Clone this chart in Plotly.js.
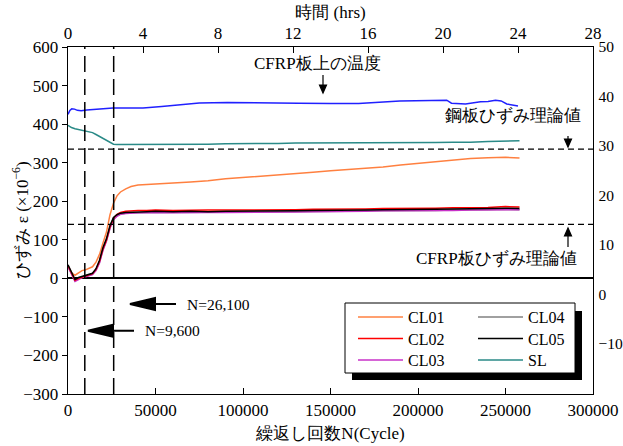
<!DOCTYPE html>
<html><head><meta charset="utf-8">
<script src="https://cdn.plot.ly/plotly-3.0.1.min.js"></script>
<style>
body{margin:0;background:#fff}
#chart{width:623px;height:446px}
</style>
</head><body><div id="chart"></div>
<script>
// ---- data ----
const cycles = [0, 2000, 4000, 6000, 8000, 10000, 12000, 14000, 16000, 18000, 20000, 22000, 24000, 26000, 28000, 30000, 33000, 36000, 40000, 45000, 50000, 60000, 70000, 80000, 90000, 100000, 110000, 120000, 130000, 140000, 150000, 160000, 170000, 180000, 190000, 200000, 210000, 220000, 230000, 240000, 250000, 258000];
const cl01 = [30, 15, 8, 14, 20, 22, 25, 30, 42, 62, 92, 120, 165, 195, 214, 224, 232, 238, 242, 243, 244, 247, 250, 253, 258, 261, 265, 268, 271, 275, 279, 282, 285, 289, 294, 298, 302, 307, 311, 313, 314, 312];
const cl02 = [33, 13, -5, 0, 4, 6, 9, 12, 23, 44, 77, 100, 134, 156, 166, 171, 174, 175, 176, 176, 177, 176, 177, 177, 177, 177, 178, 178, 178, 179, 179, 180, 180, 181, 181, 181, 182, 183, 183, 184, 186, 185];
const cl03 = [30, 10, -8, -3, 2, 4, 7, 10, 20, 40, 73, 97, 130, 152, 161, 166, 168, 169, 170, 170, 171, 170, 171, 171, 171, 171, 172, 172, 172, 173, 173, 174, 174, 175, 175, 175, 176, 176, 177, 178, 178, 178];
const cl04 = [31, 11, -6, -1, 3, 5, 8, 11, 22, 42, 75, 99, 132, 154, 162, 167, 169, 170, 171, 171, 171, 171, 171, 172, 172, 172, 172, 173, 173, 173, 174, 174, 175, 175, 176, 176, 176, 177, 177, 178, 179, 178];
const cl05 = [35, 15, -3, 2, 5, 7, 10, 13, 25, 47, 80, 103, 137, 158, 165, 169, 171, 172, 173, 173, 174, 173, 174, 173, 174, 174, 175, 175, 175, 176, 176, 177, 177, 178, 178, 178, 179, 180, 180, 181, 182, 181];
const sl   = [397, 391, 388, 386, 384, 383, 381, 378, 373, 368, 363, 357, 352, 348, 347, 347, 347, 347, 347, 347, 347, 348, 348, 348, 349, 349, 350, 350, 351, 351, 351, 351, 352, 352, 352, 352, 352, 353, 353, 355, 356, 357];
const tempHours = [0, 0.1, 0.2, 0.35, 0.5, 0.7, 1.0, 1.5, 2.4, 3.0, 4.0, 5.0, 5.8, 7.0, 8.5, 10.2, 12.3, 14.0, 15.5, 17.7, 19.0, 20.2, 20.45, 21.2, 22.0, 22.4, 22.8, 23.1, 23.4, 24.0];
const tempC = [36.4, 37.2, 37.5, 37.45, 37.2, 37.1, 37.25, 37.4, 37.7, 37.7, 37.7, 38.0, 38.25, 38.7, 38.8, 38.8, 38.65, 38.6, 38.6, 39.1, 39.2, 39.25, 38.65, 38.5, 38.95, 39.0, 39.25, 39.1, 38.5, 38.1];
const seriesNames = ['CL01', 'CL02', 'CL03', 'CL04', 'CL05', 'SL'];
const markerCycles = [9600, 26100];
const markerLabels = ['N=9,600', 'N=26,100'];
const theoryStrain = [335, 140];   // steel, CFRP
const bottomTicks = [0, 50000, 100000, 150000, 200000, 250000, 300000];
const topTicks = [0, 4, 8, 12, 16, 20, 24, 28];
const leftTicks = [-300, -200, -100, 0, 100, 200, 300, 400, 500, 600];
const rightTicks = [-10, 0, 10, 20, 30, 40, 50];

// ---- layout helpers ----
const M = {l: 68, r: 30, t: 47, b: 52};
const W = 623, H = 446;
const PW = W - M.l - M.r, PH = H - M.t - M.b;
const px = v => (v - M.l) / PW;
const py = v => (H - M.b - v) / PH;
const FONT = 'Liberation Serif';

const colors = ['#ff8040', '#ff0000', '#c832c8', '#808080', '#000000', '#2a8a87'];
const vals = [cl01, cl02, cl03, cl04, cl05, sl];
const legendIds = ['legend', 'legend2', 'legend3', 'legend4', 'legend5', 'legend6'];
// legend grid: column / row of each series
const legCol = [0, 0, 0, 1, 1, 1];
const legRow = [0, 1, 2, 0, 1, 2];

const traces = [];
// draw order: SL, CL01, CL04, CL03, CL02, CL05 (black on top)
[5, 0, 3, 2, 1, 4].forEach(i => {
  traces.push({
    x: cycles, y: vals[i], type: 'scatter', mode: 'lines', name: seriesNames[i],
    line: {color: colors[i], width: 1.5}, legend: legendIds[i]
  });
});
traces.push({
  x: tempHours, y: tempC, xaxis: 'x2', yaxis: 'y2', type: 'scatter', mode: 'lines',
  line: {color: '#2020ff', width: 1.5}, showlegend: false, name: 'temp'
});

const shapes = [];
markerCycles.forEach(n => shapes.push({type: 'line', xref: 'x', yref: 'paper', x0: n, x1: n, y0: 0, y1: 1,
  line: {color: 'black', width: 1.5, dash: '16px,7px'}}));
theoryStrain.forEach(v => shapes.push({type: 'line', xref: 'paper', yref: 'y', x0: 0, x1: 1, y0: v, y1: v,
  line: {color: 'black', width: 1.3, dash: '6px,4px'}}));
// legend box with shadow
shapes.push({type: 'rect', xref: 'paper', yref: 'paper', x0: px(352), x1: px(582), y0: py(311), y1: py(380),
  fillcolor: 'black', line: {width: 0}, layer: 'above'});
shapes.push({type: 'rect', xref: 'paper', yref: 'paper', x0: px(345), x1: px(575), y0: py(303), y1: py(373),
  fillcolor: 'white', line: {color: 'black', width: 1}, layer: 'above'});
// arrows (pixel-sized paths anchored at tip)
function arrow(tipX, tipY, path, w) {
  shapes.push({type: 'path', xref: 'paper', yref: 'paper', xsizemode: 'pixel', ysizemode: 'pixel',
    xanchor: px(tipX), yanchor: py(tipY), path: path, fillcolor: 'black',
    line: {color: 'black', width: w}, layer: 'above'});
}
arrow(323, 93, 'M0,0 L-3.5,8 L3.5,8 Z M0,8 L0,18', 1.2);
arrow(568, 147, 'M0,0 L-3.5,8 L3.5,8 Z M0,8 L0,11', 1.2);
arrow(568, 228, 'M0,0 L-3.5,-8 L3.5,-8 Z M0,-8 L0,-19', 1.2);
arrow(130, 304, 'M0,0 L25,6 L25,-6 Z M25,0 L46,0', 2);
arrow(88, 330.7, 'M0,0 L25,6 L25,-6 Z M25,0 L46,0', 2);

const annFont = {family: FONT, size: 17, color: 'black'};
const nFont = {family: FONT, size: 15.5, color: 'black'};
const annotations = [
  {text: 'CFRP板上の温度', x: px(317.5), y: py(63), xanchor: 'center', yanchor: 'middle'},
  {text: '鋼板ひずみ理論値', x: px(512.5), y: py(115), xanchor: 'center', yanchor: 'middle'},
  {text: 'CFRP板ひずみ理論値', x: px(496.5), y: py(258), xanchor: 'center', yanchor: 'middle'},
  {text: markerLabels[1], x: px(185), y: py(304), xanchor: 'left', yanchor: 'middle', font: nFont},
  {text: markerLabels[0], x: px(142.7), y: py(330.7), xanchor: 'left', yanchor: 'middle', font: nFont},
  {text: 'ひずみ ε (×10<sup>−6</sup>)', x: px(20), y: py(220.5), xanchor: 'center', yanchor: 'middle', textangle: -90}
].map(a => Object.assign({xref: 'paper', yref: 'paper', showarrow: false, font: annFont}, a));

const axisCommon = {showgrid: false, showline: true, linecolor: 'black', linewidth: 1.3,
  tickcolor: 'black', tickfont: {family: FONT, size: 17, color: 'black'}, zeroline: false};
const layout = {
  width: W, height: H, margin: M, paper_bgcolor: 'white', plot_bgcolor: 'white',
  font: {family: FONT, size: 17, color: 'black'},
  xaxis: Object.assign({}, axisCommon, {range: [0, 300000], tickvals: bottomTicks, tickformat: 'd',
    ticks: 'inside', ticklen: 6, title: {text: '繰返し回数N(Cycle)', font: {family: FONT, size: 17}, standoff: 8}}),
  xaxis2: Object.assign({}, axisCommon, {range: [0, 28], tickvals: topTicks, overlaying: 'x', side: 'top', anchor: 'y',
    ticks: 'inside', ticklen: 6, title: {text: '時間 (hrs)', font: {family: FONT, size: 17}, standoff: 1}}),
  yaxis: Object.assign({}, axisCommon, {range: [-300, 600], tickvals: leftTicks, ticks: 'outside', ticklen: 5,
    zeroline: true, zerolinecolor: 'black', zerolinewidth: 2}),
  yaxis2: Object.assign({}, axisCommon, {range: [-20.1, 50], tickvals: rightTicks, overlaying: 'y', side: 'right',
    anchor: 'x', ticks: '', ticklabelstandoff: 1, tickfont: {family: FONT, size: 15.5, color: 'black'}}),
  showlegend: true,
  shapes: shapes, annotations: annotations
};
const colX = [353, 473];
const rowY = [318, 339.5, 361];
legendIds.forEach((id, i) => {
  layout[id] = {x: px(colX[legCol[i]]), y: py(rowY[legRow[i]] - 18), xanchor: 'left', yanchor: 'top',
    bgcolor: 'rgba(0,0,0,0)', borderwidth: 0, font: {family: FONT, size: 16, color: 'black'}, itemwidth: 45};
});
Plotly.newPlot('chart', traces, layout, {displayModeBar: false, staticPlot: true});
</script>
</body></html>
